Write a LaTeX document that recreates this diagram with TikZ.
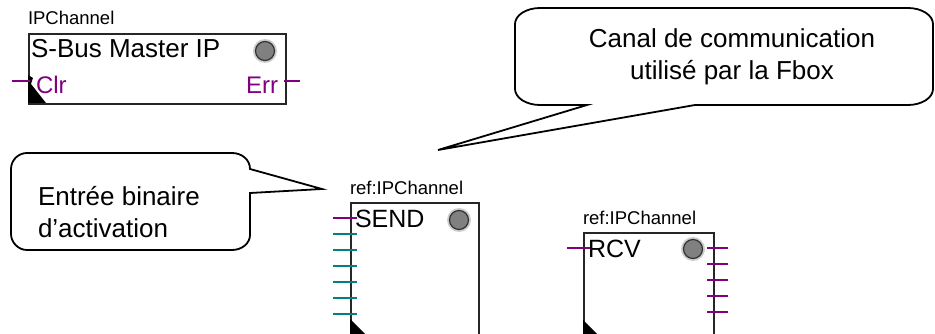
\documentclass[tikz,border=0pt]{standalone}
\usepackage{fontspec}
\setmainfont{Liberation Sans}
\definecolor{fbpurple}{RGB}{128,0,128}
\definecolor{fbteal}{RGB}{0,128,128}
\definecolor{ledgray}{RGB}{128,128,128}
\definecolor{halogray}{RGB}{205,205,205}
\begin{document}
\begin{tikzpicture}[x=1pt,y=-1pt,
  fbox/.style={draw=black!85,line width=1.8pt,fill=white,inner sep=0pt,anchor=north west},
  pinp/.style={draw=fbpurple,line width=1.8pt},
  pint/.style={draw=fbteal,line width=1.8pt},
  lbl/.style={inner sep=0pt,outer sep=0pt,anchor=base west,font=\fontsize{18.5}{20}\selectfont},
  title/.style={inner sep=0pt,outer sep=0pt,anchor=base west,font=\fontsize{25}{28}\selectfont},
  pintxt/.style={inner sep=0pt,outer sep=0pt,text=fbpurple,font=\fontsize{24}{26}\selectfont},
  calltxt/.style={inner sep=0pt,outer sep=0pt,font=\fontsize{26}{32}\selectfont},
  bubble/.style={draw=black,line width=1.8pt,fill=white,line join=miter},
  ledhalo/.style={circle,fill=halogray,minimum size=24pt,inner sep=0pt},
  led/.style={circle,fill=ledgray,draw=black!80,line width=1.2pt,minimum size=19pt,inner sep=0pt},
  enable/.style={fill=black}]
\useasboundingbox (0,0) rectangle (935,334);
\clip (0,0) rectangle (935,334);

% ---------- Box A : IPChannel ----------
\node[lbl] (labA) at (28,25) {IPChannel};
\node[fbox,minimum width=257pt,minimum height=70pt] (boxA) at (28,33) {};
\node[title,font=\fontsize{26}{28}\selectfont] (tA) at (31,58) {S-Bus Master IP};
\node[ledhalo] (haloA) at (265,51) {};
\node[led] (ledA) at (265,51) {};
\fill[enable] (28,75) -- (33,78) -- (31,84) -- (46,103) -- (28,103) -- cycle;
\coordinate (aL1) at (12,81);  \coordinate (aL2) at (30,81);
\coordinate (aR1) at (284,81); \coordinate (aR2) at (300,81);
\draw[pinp] (aL1) -- (aL2);
\draw[pinp] (aR1) -- (aR2);
\node[pintxt,anchor=base west] (clr) at (36,94) {Clr};
\node[pintxt,anchor=base east] (err) at (278,94) {Err};

% ---------- Box B : SEND ----------
\node[lbl] (labB) at (350,195) {ref:IPChannel};
\node[fbox,minimum width=128pt,minimum height=150pt] (boxB) at (350,202) {};
\node[title] (tB) at (355,227) {SEND};
\node[ledhalo] (haloB) at (459,220) {};
\node[led] (ledB) at (459,220) {};
\fill[enable] (350,319) -- (367,336) -- (350,336) -- cycle;
\coordinate (b0a) at (333,218); \coordinate (b0b) at (357,218);
\draw[pinp] (b0a) -- (b0b);
\foreach \i/\yy in {1/234,2/250,3/266,4/282,5/298,6/314}{
  \coordinate (b\i a) at (333,\yy); \coordinate (b\i b) at (357,\yy);
  \draw[pint] (b\i a) -- (b\i b);
}

% ---------- Box C : RCV ----------
\node[lbl] (labC) at (583,225) {ref:IPChannel};
\node[fbox,minimum width=130pt,minimum height=130pt] (boxC) at (583,232) {};
\node[title] (tC) at (588,257) {RCV};
\node[ledhalo] (haloC) at (693,249) {};
\node[led] (ledC) at (693,249) {};
\fill[enable] (583,320) -- (600,337) -- (583,337) -- cycle;
\coordinate (c0a) at (567,248); \coordinate (c0b) at (590,248);
\draw[pinp] (c0a) -- (c0b);
\foreach \i/\yy in {1/248,2/264,3/280,4/296,5/312}{
  \coordinate (c\i a) at (707,\yy); \coordinate (c\i b) at (728,\yy);
  \draw[pinp] (c\i a) -- (c\i b);
}

% ---------- Callout 1 ----------
\coordinate (p1tip) at (322,189);
\draw[bubble] (250,169) -- (p1tip) -- (250,193) -- (250,235)
  .. controls (250,243.3) and (241.9,250) .. (232,250) -- (27,250)
  .. controls (18.2,250) and (11,242.3) .. (11,234) -- (11,169)
  .. controls (11,160.2) and (18.2,153) .. (27,153) -- (232,153)
  .. controls (241.9,153) and (250,159.7) .. (250,169) -- cycle;
\node[calltxt,anchor=base west] (e1) at (38,205) {Entrée binaire};
\node[calltxt,anchor=base west] (e2) at (38,237) {d’activation};

% ---------- Callout 2 ----------
\coordinate (p2tip) at (438,150);
\draw[bubble] (587,105) -- (p2tip) -- (695,105) -- (908,105)
  .. controls (921.75,105) and (933,97.8) .. (933,89) -- (933,24)
  .. controls (933,15.2) and (921.75,8) .. (908,8) -- (540,8)
  .. controls (526.25,8) and (515,15.2) .. (515,24) -- (515,89)
  .. controls (515,97.8) and (526.25,105) .. (540,105) -- cycle;
\node[calltxt,anchor=base] (c1) at (732,48) {Canal de communication};
\node[calltxt,anchor=base] (c2) at (732,80) {utilisé par la Fbox};
\end{tikzpicture}
\end{document}
